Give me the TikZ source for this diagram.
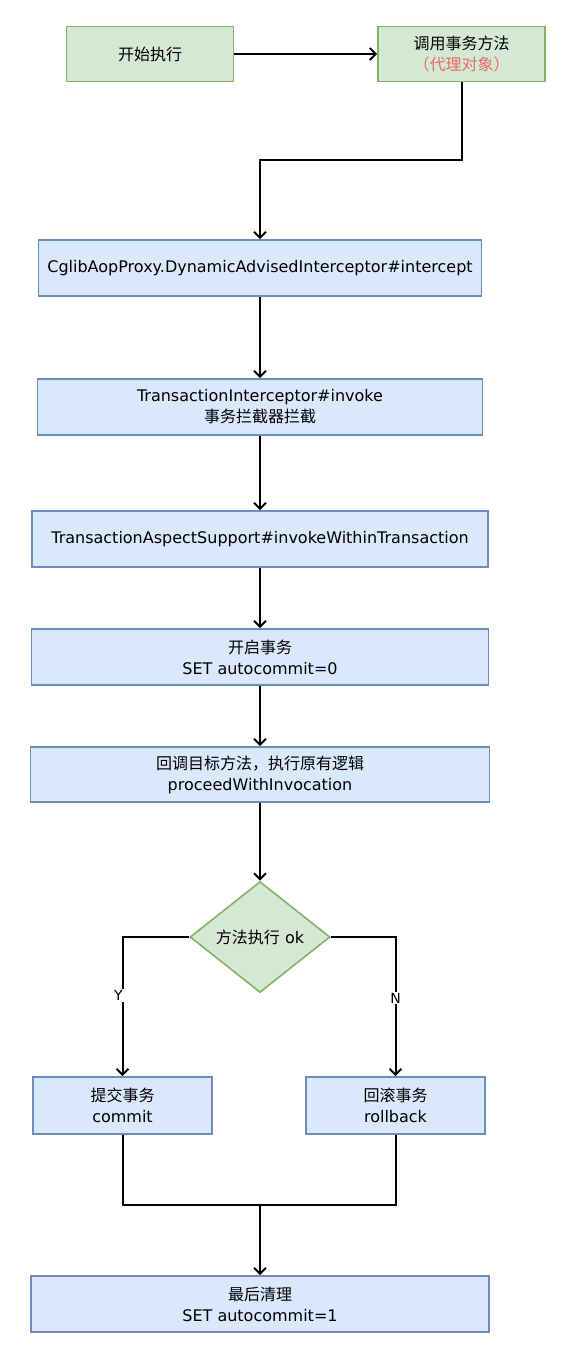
\documentclass[tikz,border=0pt]{standalone}
\usepackage{fontspec}
\setmainfont{DejaVu Sans}
\newfontfamily\cjk{Noto Sans CJK SC}
\usepackage{tikz}
\usetikzlibrary{calc}
\usetikzlibrary{arrows.meta}
\usetikzlibrary{shapes.geometric}
\definecolor{greenfill}{HTML}{D5E8D4}
\definecolor{greenline}{HTML}{82B366}
\definecolor{bluefill}{HTML}{DAE8FC}
\definecolor{blueline}{HTML}{6C8EBF}
\definecolor{proxyred}{HTML}{EA6B66}
\tikzset{greenbox/.style={draw=greenline, fill=greenfill, line width=1.6pt, minimum width=167pt, minimum height=55pt, align=center, inner sep=0pt}, bluebox/.style={draw=blueline, fill=bluefill, line width=1.6pt, minimum height=56pt, align=center, inner sep=0pt}}
\tikzset{flow/.style={line width=2pt, -{Straight Barb[length=6pt,width=12pt,line width=2pt]}}, lbl/.style={fill=white, inner sep=1pt, font=\fontsize{14}{16}\selectfont}}

\begin{document}
\begin{tikzpicture}[x=1pt, y=-1pt, font=\fontsize{16}{21}\selectfont]

	\useasboundingbox (0,0) rectangle (570,1356);

	% entry
	\node at (150,54) [greenbox] (start) {\cjk 开始执行};
	\node at (461.5,54) [greenbox] (call) {{\cjk 调用事务方法}\\\textcolor{proxyred}{\cjk （代理对象）}};

	% interceptor chain
	\node at (260,268) [bluebox, minimum width=443pt] (cglib) {CglibAopProxy.DynamicAdvisedInterceptor\#intercept};
	\node at (260,407) [bluebox, minimum width=445pt] (invoke) {TransactionInterceptor\#invoke\\{\cjk 事务拦截器拦截}};
	\node at (260,539) [bluebox, minimum width=456pt] (within) {TransactionAspectSupport\#invokeWithinTransaction};
	\node at (260,657) [bluebox, minimum width=457pt] (begin) {{\cjk 开启事务}\\SET autocommit=0};
	\node at (260,774.5) [bluebox, minimum width=459pt, minimum height=55pt] (proceed) {{\cjk 回调目标方法，执行原有逻辑}\\proceedWithInvocation};

	% decision
	\node at (260,937) [diamond, draw=greenline, fill=greenfill, line width=1.6pt, aspect=1.26, inner sep=0pt, minimum width=140pt, minimum height=111pt] (ok) {{\cjk 方法执行} ok};

	% outcomes
	\node at (122.5,1105.5) [bluebox, minimum width=179pt, minimum height=57pt] (commit) {{\cjk 提交事务}\\commit};
	\node at (395.5,1105.5) [bluebox, minimum width=179pt, minimum height=57pt] (rollback) {{\cjk 回滚事务}\\rollback};
	\node at (260,1304) [bluebox, minimum width=458pt] (cleanup) {{\cjk 最后清理}\\SET autocommit=1};

	% bends
	\coordinate (turn) at (461.5,160);
	\coordinate (join) at (260,1205);

	% connectors
	\draw [flow] (start) -- (call);
	\draw [flow] (call.south) -- (turn) -| (cglib.north);
	\draw [flow] (cglib) -- (invoke);
	\draw [flow] (invoke) -- (within);
	\draw [flow] (within) -- (begin);
	\draw [flow] (begin) -- (proceed);
	\draw [flow] (proceed) -- (ok);
	\draw [flow] (ok.west) -| node [lbl, pos=0.71, xshift=-4pt] {Y} (commit.north);
	\draw [flow] (ok.east) -| node [lbl, pos=0.72] {N} (rollback.north);
	\draw [line width=2pt] (commit.south) |- (join);
	\draw [line width=2pt] (rollback.south) |- (join);
	\draw [flow] (join) -- (cleanup.north);

\end{tikzpicture}
\end{document}
